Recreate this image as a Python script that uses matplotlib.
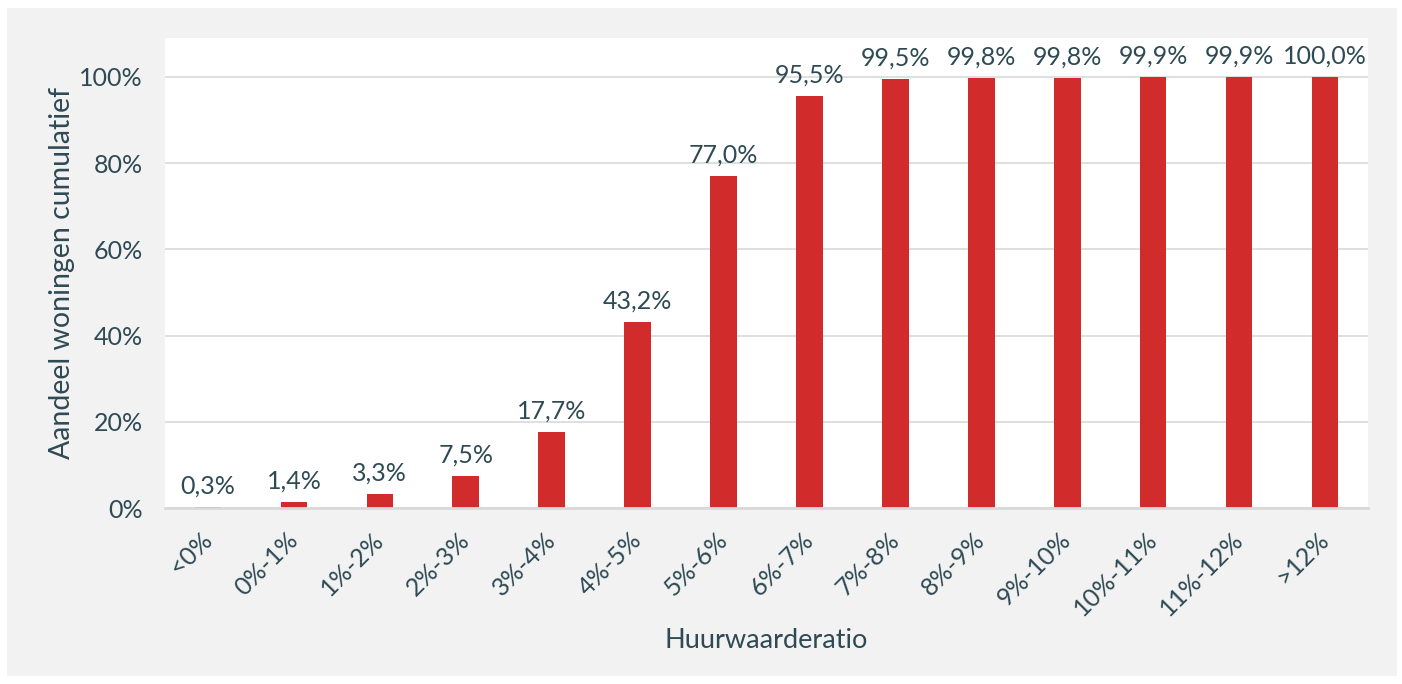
import matplotlib.pyplot as plt
from matplotlib.patches import Rectangle

# data
categories = ['<0%', '0%-1%', '1%-2%', '2%-3%', '3%-4%', '4%-5%', '5%-6%',
              '6%-7%', '7%-8%', '8%-9%', '9%-10%', '10%-11%', '11%-12%', '>12%']
values = [0.3, 1.4, 3.3, 7.5, 17.7, 43.2, 77.0, 95.5, 99.5, 99.8, 99.8, 99.9, 99.9, 100.0]
y_ticks = [0, 20, 40, 60, 80, 100]

red = '#d22b2b'
txt = '#2e4a54'
grid = '#d9d9d9'
panel = '#f2f2f2'

plt.rcParams['font.family'] = ['Lato', 'DejaVu Sans']

fig = plt.figure(figsize=(14.02, 6.84), dpi=100)
fig.patch.set_facecolor('white')
# grey panel behind everything
fig.patches.append(Rectangle((7 / 1402, 8 / 684), 1390 / 1402, 668 / 684,
                             transform=fig.transFigure, facecolor=panel,
                             edgecolor='none', zorder=-10))

ax = fig.add_axes([165 / 1402, 1 - 508 / 684, 1203 / 1402, 470 / 684])
ax.set_facecolor('white')

x = range(len(categories))
bars = ax.bar(x, values, width=0.31, color=red, zorder=2)

for i, v in enumerate(values):
    ax.text(i, v + 2.2, f'{v:.1f}%'.replace('.', ','), ha='center', va='bottom',
            fontsize=18, color=txt)

ax.set_xlim(-0.5, len(categories) - 0.5)
ax.set_ylim(0, 109)
ax.set_yticks(y_ticks)
ax.set_yticklabels([f'{t}%' for t in y_ticks], fontsize=18, color=txt)
ax.yaxis.grid(True, color=grid, linewidth=1.2, zorder=0)
ax.set_axisbelow(True)

ax.set_xticks(list(x))
ax.set_xticklabels(categories, rotation=45, ha='right', va='center',
                   rotation_mode='anchor', fontsize=18, color=txt)
ax.tick_params(axis='both', length=0)
ax.tick_params(axis='x', pad=20)
ax.tick_params(axis='y', pad=16)

for s in ['top', 'right', 'left']:
    ax.spines[s].set_visible(False)
ax.spines['bottom'].set_color(grid)
ax.spines['bottom'].set_linewidth(2)
ax.spines['bottom'].set_zorder(3)

ax.set_xlabel('Huurwaarderatio', fontsize=19.5, color=txt, labelpad=6)
ax.set_ylabel('Aandeel woningen cumulatief', fontsize=20.5, color=txt, labelpad=3)

fig.savefig('out.png', dpi=100)
